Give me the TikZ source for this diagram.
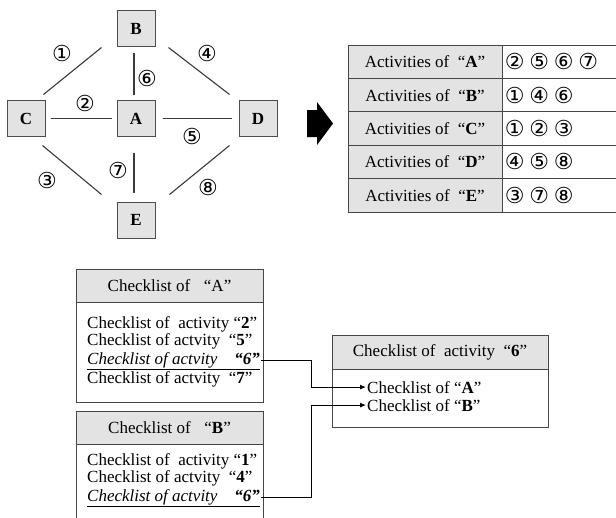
\documentclass[tikz,border=0pt]{standalone}
\usepackage{fontspec}
\setmainfont{Liberation Serif}
\newfontfamily\cfont{DejaVu Sans}
\usetikzlibrary{arrows.meta,calc}
% one circled activity number in a fixed-width slot
\newcommand\dg[1]{\makebox[24.5pt]{#1}}

\begin{document}
\begin{tikzpicture}[x=1pt,y=-1pt,
  txt/.style={font=\fontsize{17}{20}\selectfont, inner sep=1pt},
  vbox/.style={draw=gray!60!black, fill=gray!22, line width=1pt,
    minimum width=38pt, minimum height=36pt, inner sep=0pt,
    font=\fontsize{17}{20}\selectfont\bfseries},
  link/.style={draw=gray!45!black, line width=1.1pt},
  num/.style={font=\cfont\fontsize{22}{22}\selectfont, inner sep=0pt},
  tabline/.style={draw=gray!55!black, line width=1pt},
  keycell/.style={tabline, fill=gray!22, minimum width=154pt,
    minimum height=33.4pt, inner sep=0pt, font=\fontsize{17}{20}\selectfont},
  valcell/.style={tabline, fill=white, minimum height=33.4pt, text width=128pt,
    inner sep=0pt, align=left, font=\cfont\fontsize{22}{22}\selectfont},
  head/.style={tabline, fill=gray!22, inner sep=0pt, font=\fontsize{17}{20}\selectfont},
  panel/.style={tabline, fill=white, inner sep=0pt},
  conn/.style={draw=black, line width=0.9pt, -{Latex[length=6pt,width=5pt]}},
]
\path[use as bounding box, clip] (0,0) rectangle (616,517);

% ---- activity graph ----
\node[vbox] (B) at (136,28.5) {B};
\node[vbox] (C) at (26,118.5) {C};
\node[vbox] (A) at (136,118.5) {A};
\node[vbox] (D) at (258,118.5) {D};
\node[vbox] (E) at (136,220) {E};

\draw[link] ($(B.south west)+(-15,0.5)$) -- ($(C.north east)+(-2,-5.5)$);
\draw[link] ($(B.south east)+(13,0.5)$) -- ($(D.north west)+(-9,-5.5)$);
\draw[link] ($(B.south)+(-2,6)$) -- ($(A.north)+(-2,-5.5)$);
\draw[link] ($(C.east)+(5,0)$) -- ($(A.west)+(-5,0)$);
\draw[link] ($(A.east)+(7,0)$) -- ($(D.west)+(-7,0)$);
\draw[link] ($(C.south east)+(-3,8.5)$) -- ($(E.north west)+(-15,-7)$);
\draw[link] ($(A.south)+(-2,15.5)$) -- ($(E.north)+(-2,-9)$);
\draw[link] ($(D.south west)+(-9,8.5)$) -- ($(E.north east)+(14,-7)$);

\node[num] (n1) at (62,53) {①};
\node[num] (n4) at (207,53) {④};
\node[num] (n6) at (147,78) {⑥};
\node[num] (n2) at (85,103) {②};
\node[num] (n5) at (192,136) {⑤};
\node[num] (n3) at (47,180) {③};
\node[num] (n7) at (118,170) {⑦};
\node[num] (n8) at (208,187) {⑧};

% ---- block arrow ----
\fill[black] (307,110) -- (317,110) -- (317,102) -- (333,123.5) -- (317,145)
  -- (317,137) -- (307,137) -- cycle;

% ---- activities table ----
\node[keycell] (kA) at (425,61.7) {Activities of\hspace{0.5em}“\textbf{A}”};
\node[keycell] (kB) at (425,95.1) {Activities of\hspace{0.5em}“\textbf{B}”};
\node[keycell] (kC) at (425,128.5) {Activities of\hspace{0.5em}“\textbf{C}”};
\node[keycell] (kD) at (425,161.9) {Activities of\hspace{0.5em}“\textbf{D}”};
\node[keycell] (kE) at (425,195.3) {Activities of\hspace{0.5em}“\textbf{E}”};
\node[valcell, anchor=west] (vA) at (502,61.7) {\dg{②}\dg{⑤}\dg{⑥}\dg{⑦}};
\node[valcell, anchor=west] (vB) at (502,95.1) {\dg{①}\dg{④}\dg{⑥}};
\node[valcell, anchor=west] (vC) at (502,128.5) {\dg{①}\dg{②}\dg{③}};
\node[valcell, anchor=west] (vD) at (502,161.9) {\dg{④}\dg{⑤}\dg{⑧}};
\node[valcell, anchor=west] (vE) at (502,195.3) {\dg{③}\dg{⑦}\dg{⑧}};

% ---- checklist of A ----
\node[head, minimum width=187pt, minimum height=33pt] (hA) at (169.5,285.5)
  {Checklist of\hspace{0.8em}“A”};
\node[panel, minimum width=187pt, minimum height=100pt, anchor=north] (pA) at (169.5,302) {};
\node[txt, anchor=base west] (a2) at (86,328) {Checklist of\ \ activity “\textbf{2}”};
\node[txt, anchor=base west] (a5) at (86,345) {Checklist of actvity\ \ “\textbf{5}”};
\node[txt, anchor=base west] (a6) at (86,364)
  {\underline{\textit{Checklist of actvity\hspace{1em}\textbf{“6”}}}};
\node[txt, anchor=base west] (a7) at (86,383) {Checklist of actvity\ \ “\textbf{7}”};

% ---- checklist of B ----
\node[head, minimum width=187pt, minimum height=33pt] (hB) at (169.5,427.5)
  {Checklist of\hspace{0.8em}“\textbf{B}”};
\node[panel, minimum width=187pt, minimum height=80pt, anchor=north] (pB) at (169.5,444) {};
\node[txt, anchor=base west] (b1) at (86,465) {Checklist of\ \ activity “\textbf{1}”};
\node[txt, anchor=base west] (b4) at (86,482) {Checklist of actvity\ \ “\textbf{4}”};
\node[txt, anchor=base west] (b6) at (86,501)
  {\underline{\textit{Checklist of actvity\hspace{1em}\textbf{“6”}}}};

% ---- checklist of activity 6 ----
\node[head, minimum width=216pt, minimum height=34pt] (h6) at (440,352)
  {Checklist of\ \ activity\ \ “\textbf{6}”};
\node[panel, minimum width=216pt, minimum height=58pt, anchor=north] (p6) at (440,369) {};
\node[txt, anchor=base west] (cA) at (366,393) {Checklist of “\textbf{A}”};
\node[txt, anchor=base west] (cB) at (366,411) {Checklist of “\textbf{B}”};

% ---- cross references ----
\coordinate (jx) at (311,0);
\draw[conn] (a6.east) -- (a6.east -| jx) |- (cA.west);
\draw[conn] (b6.east) -- (b6.east -| jx) |- (cB.west);
\end{tikzpicture}
\end{document}
